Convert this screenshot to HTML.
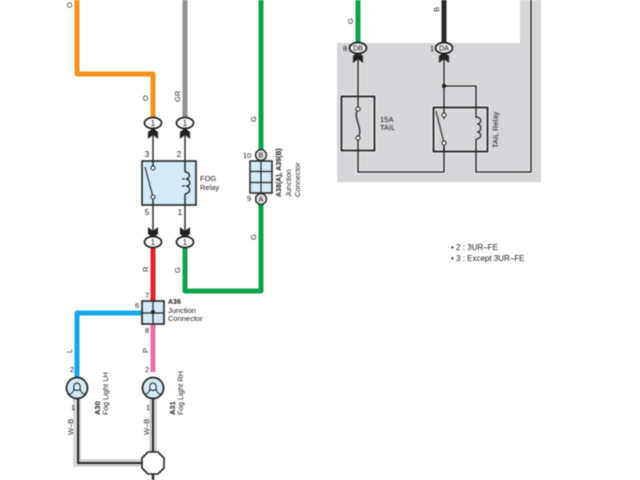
<!DOCTYPE html>
<html><head><meta charset="utf-8"><style>html,body{margin:0;padding:0;background:#fff}svg{display:block;filter:blur(.45px)}text{font-family:"Liberation Sans",sans-serif;fill:#1c1c1c}</style></head><body>
<svg width="640" height="480" viewBox="0 0 640 480" xmlns="http://www.w3.org/2000/svg">
<defs>
<g id="ah"><path d="M-5 -4 L0 -8 L5 -4 L5 3 L0 -1 L-5 3Z" fill="#222"/></g>
<g id="ad"><path d="M-5 4 L0 8 L5 4 L5 -3 L0 1 L-5 -3Z" fill="#222"/></g>
<g id="fil"><path d="M-8 6C-4 6 -4 3 -3 1C-4 -3 -2 -5 0 -5C2 -5 4 -3 3 1C4 3 4 6 8 6M-3 1C-2 3 2 3 3 1" fill="none" stroke="#222" stroke-width="1"/></g>
</defs>
<!-- grey panel -->
<rect x="337" y="43" width="204" height="139" fill="#d6d6d8"/>
<rect x="520" y="0" width="21" height="44" fill="#d6d6d8"/>
<!-- coloured wires -->
<g fill="none" stroke-width="5" stroke-linejoin="round">
<path d="M77 0V74H153V118" stroke="#f5911e"/>
<path d="M185 0V118" stroke="#8f9195"/>
<path d="M261 0V291H185V245" stroke="#0ea34a"/>
<path d="M153 245V302" stroke="#e8202a"/>
<path d="M153 323V372" stroke="#ee6fae"/>
<path d="M143 313H77V378" stroke="#16a7e6"/>
<path d="M358 0V44" stroke="#0ea34a"/>
<path d="M444 0V44" stroke="#2a2a2a"/>
</g>
<!-- W-B wires -->
<g fill="none">
<path d="M77 398V463H143M153 398V453" stroke="#c4c5c7" stroke-width="7"/>
<path d="M77 398V463H143M153 398V453" stroke="#ececec" stroke-width="4"/>
<path d="M78 398V463H143M153 398V453" stroke="#2a2a2a" stroke-width="2.200"/>
<path d="M153 473V480" stroke="#2a2a2a" stroke-width="2.500"/>
</g>
<polygon points="148,452 158,452 164,458 164,468 158,474 148,474 142,468 142,458" fill="#fff" stroke="#222" stroke-width="1.600"/>
<!-- FOG relay -->
<rect x="142" y="161" width="54" height="44" fill="#d3ebf7" stroke="#222" stroke-width="1.600"/>
<g fill="none" stroke="#222" stroke-width="1.400">
<path d="M153 130V168M153 198V238M185 130V172M185 194V238"/>
<path d="M145 167L153 197" stroke-width="1.100"/>
<path d="M185 172C190 172 191 178 186 179C191 180 191 186 186 186C191 187 191 193 185 194"/>
<path d="M185 179H182M185 186H182" stroke-width="1"/>
</g>
<circle cx="153" cy="168" r="2" fill="#fff" stroke="#222"/><circle cx="153" cy="197" r="2" fill="#fff" stroke="#222"/>
<use href="#ah" x="153" y="136"/><use href="#ah" x="185" y="136"/>
<use href="#ad" x="153" y="230"/><use href="#ad" x="185" y="230"/>
<g fill="#fff" stroke="#222" stroke-width="1.700">
<ellipse cx="153" cy="123" rx="8.500" ry="5.500"/><ellipse cx="185" cy="123" rx="8.500" ry="5.500"/>
<ellipse cx="153" cy="242" rx="8.500" ry="5.500"/><ellipse cx="185" cy="242" rx="8.500" ry="5.500"/>
</g>
<g font-size="8" text-anchor="middle">
<text x="153" y="126">1</text><text x="185" y="126">1</text><text x="153" y="245">1</text><text x="185" y="245">1</text>
<text x="147" y="157">3</text><text x="179" y="157">2</text><text x="147" y="215">5</text><text x="180" y="215">1</text>
</g>
<text x="200" y="181" font-size="7.500">FOG</text><text x="200" y="190" font-size="7.500">Relay</text>
<!-- A38/A39 -->
<rect x="250" y="161" width="22" height="32" fill="#d3ebf7" stroke="#222" stroke-width="1.500"/>
<path d="M261 161V193M250 171.500H272M250 182.500H272" stroke="#222" stroke-width="1.200"/>
<circle cx="261" cy="155" r="5.500" fill="#ddd" stroke="#222" stroke-width="1.300"/><circle cx="261" cy="199" r="5.500" fill="#ddd" stroke="#222" stroke-width="1.300"/>
<text x="261" y="157.500" font-size="7" text-anchor="middle">B</text><text x="261" y="201.500" font-size="7" text-anchor="middle">A</text>
<text x="243" y="158" font-size="7.500">10</text><text x="247" y="201" font-size="7.500">9</text>
<g font-size="7.500">
<text transform="translate(281,197) rotate(-90)" font-weight="bold" font-size="7">A38(A), A39(B)</text>
<text transform="translate(291,197) rotate(-90)">Junction</text>
<text transform="translate(300,197) rotate(-90)">Connector</text>
</g>
<!-- A36 -->
<rect x="142" y="301" width="22" height="23" fill="#d3ebf7" stroke="#222" stroke-width="1.600"/>
<path d="M153 301V324M142 313H164" stroke="#222" stroke-width="1.200"/><circle cx="153" cy="312" r="2" fill="#222"/>
<text x="145" y="298" font-size="7.500">7</text><text x="135" y="308" font-size="7.500">6</text><text x="145" y="333" font-size="7.500">8</text>
<text x="168" y="304" font-size="7" font-weight="bold">A36</text>
<text x="168" y="313" font-size="7.500">Junction</text><text x="168" y="321" font-size="7.500">Connector</text>
<!-- lamps -->
<g fill="#d3ebf7" stroke="#222" stroke-width="1.700"><circle cx="77" cy="388" r="10.500"/><circle cx="153" cy="388" r="10.500"/></g>
<use href="#fil" x="77" y="388"/><use href="#fil" x="153" y="388"/>
<g font-size="7.500"><text x="70" y="372">2</text><text x="145" y="372">2</text><text x="71" y="410">1</text><text x="146" y="410">1</text></g>
<g font-size="7.500">
<text transform="translate(100,415) rotate(-90)" font-weight="bold">A30</text>
<text transform="translate(108,415) rotate(-90)">Fog Light LH</text>
<text transform="translate(175,415) rotate(-90)" font-weight="bold">A31</text>
<text transform="translate(183,415) rotate(-90)">Fog Light RH</text>
<text transform="translate(72,8) rotate(-90)">O</text>
<text transform="translate(148,101) rotate(-90)">O</text>
<text transform="translate(180,102) rotate(-90)">GR</text>
<text transform="translate(256,122) rotate(-90)">G</text>
<text transform="translate(256,240) rotate(-90)">G</text>
<text transform="translate(180,273) rotate(-90)">G</text>
<text transform="translate(148,272) rotate(-90)">R</text>
<text transform="translate(148,353) rotate(-90)">P</text>
<text transform="translate(72,353) rotate(-90)">L</text>
<text transform="translate(73,435) rotate(-90)">W–B</text>
<text transform="translate(149,435) rotate(-90)">W–B</text>
<text transform="translate(353,24) rotate(-90)">G</text>
<text transform="translate(439,12) rotate(-90)">B</text>
</g>
<!-- panel wiring -->
<g fill="none" stroke="#f2f2f2" stroke-width="4" opacity=".8">
<path d="M358 56V172H444M444 56V172M444 86H476V172H531V0"/>
<rect x="341.500" y="96.500" width="33" height="54"/>
<rect x="433.500" y="107.500" width="54" height="44"/>
</g>
<g fill="none" stroke="#333" stroke-width="1.600">
<path d="M358 56V172H444M444 56V172M444 86H476V172H531V0"/>
<rect x="341.500" y="96.500" width="33" height="54" stroke="#222" stroke-width="1.800"/>
<rect x="433.500" y="107.500" width="54" height="44" stroke="#222" stroke-width="1.800"/>
</g>
<rect x="345" y="110" width="26" height="30" fill="#d6d6d8"/>
<path d="M358 109C352 118 364 128 358 138" fill="none" stroke="#222" stroke-width="1.300"/>
<circle cx="358" cy="109" r="2" fill="#fff" stroke="#222"/><circle cx="358" cy="138" r="2" fill="#fff" stroke="#222"/>
<rect x="436" y="116" width="14" height="31" fill="#d6d6d8"/>
<path d="M444 114V119M444 144V151" stroke="#222" stroke-width="1.400"/>
<path d="M436 111L444 143" stroke="#222" stroke-width="1.100"/>
<circle cx="444" cy="115" r="2" fill="#fff" stroke="#222"/><circle cx="444" cy="143" r="2" fill="#fff" stroke="#222"/>
<rect x="472" y="118" width="10" height="21" fill="#d6d6d8"/>
<path d="M476 117C482 117 482 124 477 124C482 124 482 132 477 132C482 132 482 139 476 139" fill="none" stroke="#222" stroke-width="1.200"/>
<circle cx="444" cy="86" r="2.200" fill="#222"/>
<use href="#ah" x="358" y="60"/><use href="#ah" x="444" y="60"/>
<g fill="#e8e8e8" stroke="#222" stroke-width="1.700"><ellipse cx="358" cy="48" rx="8.500" ry="5.500"/><ellipse cx="444" cy="48" rx="8.500" ry="5.500"/></g>
<text x="358" y="50.500" font-size="7" text-anchor="middle">DB</text><text x="444" y="50.500" font-size="7" text-anchor="middle">DA</text>
<text x="343" y="51" font-size="7.500">8</text><text x="430" y="51" font-size="7.500">1</text>
<text x="380" y="122" font-size="7.500">15A</text><text x="380" y="130" font-size="7.500">TAIL</text>
<text transform="translate(498,148) rotate(-90)" font-size="7.500">TAIL Relay</text>
<!-- notes -->
<g font-size="8" fill="#333"><text x="451" y="250">• 2 : 3UR–FE</text><text x="451" y="261">• 3 : Except 3UR–FE</text></g>
</svg>
</body></html>
